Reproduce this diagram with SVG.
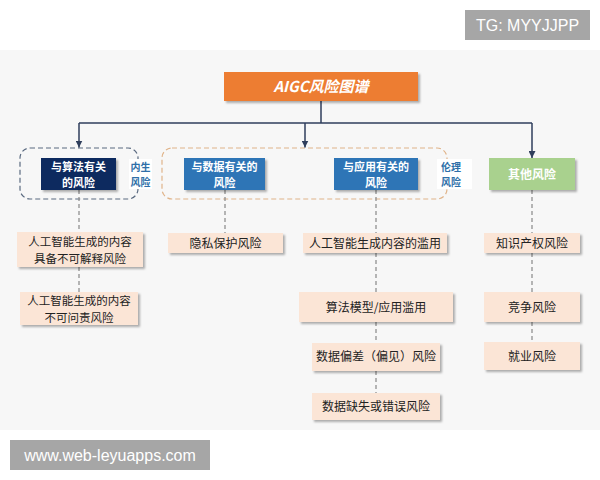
<svg xmlns="http://www.w3.org/2000/svg" width="600" height="480" viewBox="0 0 600 480">
<defs>
<filter id="sh" x="-10%" y="-20%" width="130%" height="170%">
<feDropShadow dx="2" dy="2" stdDeviation="1.2" flood-color="#000" flood-opacity="0.3"/>
</filter>
<marker id="ar" viewBox="0 0 10 10" refX="10" refY="5" markerWidth="7" markerHeight="7" orient="auto" markerUnits="userSpaceOnUse">
<path d="M0,0 L10,5 L0,10 z" fill="#2f3e5c"/>
</marker>
</defs>
<style>
text{font-family:"Noto Sans CJK SC","Liberation Sans",sans-serif;text-anchor:middle}
.hd{font-size:11px;font-weight:bold;fill:#fff}
.ch{font-size:12px;fill:#222}
.ch2{font-size:11.5px;fill:#222}
.leaf{fill:#fbe5d6;filter:url(#sh)}
.hbox{filter:url(#sh)}
.dash{stroke:#888;stroke-width:1.2;stroke-dasharray:4 3;fill:none}
.conn{stroke:#2f3e5c;stroke-width:1.5;fill:none}
.tag{font-size:10px;font-weight:bold;fill:#2e6fa8}
.wm{fill:#a6a6a6}
.wmt{font-family:"Liberation Sans",Arial,sans-serif;fill:#fff;font-size:16px}
</style>
<rect x="0" y="0" width="600" height="480" fill="#fff"/>
<rect x="0" y="50" width="600" height="380" fill="#f7f7f7"/>

<g id="tg-label">
<rect class="wm" x="465" y="10" width="125" height="30"/>
<text class="wmt" x="527.5" y="31">TG: MYYJJPP</text>
</g>

<g id="containers">
<rect x="20" y="148" width="118" height="51" rx="10" fill="none" stroke="#5a6a80" stroke-width="1.2" stroke-dasharray="5 3"/>
<rect x="162" y="148" width="285" height="51" rx="10" fill="none" stroke="#e0b48a" stroke-width="1.2" stroke-dasharray="5 3"/>
</g>

<g id="connectors">
<path class="conn" d="M321,101 V123"/>
<path class="conn" d="M79,123 H532"/>
<path class="conn" d="M79,123 V147.5" marker-end="url(#ar)"/>
<path class="conn" d="M305,123 V147.5" marker-end="url(#ar)"/>
<path class="conn" d="M532,123 V158" marker-end="url(#ar)"/>
<path class="dash" d="M79,190 V232 M79,267 V292"/>
<path class="dash" d="M225,190 V233"/>
<path class="dash" d="M376,190 V233 M376,253 V292 M376,322 V343 M376,371 V393"/>
<path class="dash" d="M532,190 V233 M532,253 V292 M532,322 V342"/>
</g>

<g id="title">
<rect x="224" y="72" width="194" height="29" fill="#ed7d31" filter="url(#sh)"/>
<text x="321" y="92" font-size="15" font-weight="bold" font-style="italic" fill="#fff">AIGC风险图谱</text>
</g>

<g id="tag-inner">
<rect x="129" y="159" width="23" height="30" fill="#fff"/>
<text class="tag" x="140.5" y="171">内生<tspan x="140.5" dy="14.6">风险</tspan></text>
</g>
<g id="tag-ethics">
<rect x="437" y="159" width="35" height="30" fill="#fff"/>
<text class="tag" x="451" y="171">伦理<tspan x="451" dy="14.6">风险</tspan></text>
</g>

<g id="algo">
<rect class="hbox" x="41" y="158" width="75" height="32" fill="#0e2a5e"/>
<text class="hd" x="78.5" y="170.5">与算法有关<tspan x="78.5" dy="16">的风险</tspan></text>
</g>
<g id="data">
<rect class="hbox" x="184" y="158" width="81" height="32" fill="#2e75b6"/>
<text class="hd" x="224.5" y="170.5">与数据有关的<tspan x="224.5" dy="16">风险</tspan></text>
</g>
<g id="app">
<rect class="hbox" x="334" y="158" width="84" height="32" fill="#2e75b6"/>
<text class="hd" x="376" y="170.5">与应用有关的<tspan x="376" dy="16">风险</tspan></text>
</g>
<g id="other">
<rect class="hbox" x="489" y="158" width="86" height="32" fill="#a9d18e"/>
<text x="532" y="178.5" font-size="12" font-weight="bold" fill="#fff">其他风险</text>
</g>

<g id="c1">
<rect class="leaf" x="17" y="232" width="126" height="35"/>
<text class="ch2" x="80" y="245.5">人工智能生成的内容<tspan x="80" dy="17">具备不可解释风险</tspan></text>
</g>
<g id="c2">
<rect class="leaf" x="20" y="292" width="118" height="33"/>
<text class="ch2" x="79" y="304.5">人工智能生成的内容<tspan x="79" dy="17">不可问责风险</tspan></text>
</g>
<g id="c3">
<rect class="leaf" x="168" y="233" width="115" height="20"/>
<text class="ch" x="225.5" y="247.5">隐私保护风险</text>
</g>
<g id="c4">
<rect class="leaf" x="303" y="233" width="144" height="20"/>
<text class="ch" x="375" y="247.5">人工智能生成内容的滥用</text>
</g>
<g id="c5">
<rect class="leaf" x="299" y="292" width="154" height="30"/>
<text class="ch" x="376" y="311.5">算法模型/应用滥用</text>
</g>
<g id="c6">
<rect class="leaf" x="312" y="343" width="128" height="28"/>
<text class="ch" x="376" y="361">数据偏差（偏见）风险</text>
</g>
<g id="c7">
<rect class="leaf" x="312" y="393" width="128" height="27"/>
<text class="ch" x="376" y="411">数据缺失或错误风险</text>
</g>
<g id="c8">
<rect class="leaf" x="484" y="233" width="96" height="20"/>
<text class="ch" x="532" y="247.5">知识产权风险</text>
</g>
<g id="c9">
<rect class="leaf" x="484" y="292" width="96" height="30"/>
<text class="ch" x="532" y="311.5">竞争风险</text>
</g>
<g id="c10">
<rect class="leaf" x="484" y="342" width="96" height="28"/>
<text class="ch" x="532" y="360.5">就业风险</text>
</g>

<g id="url-label">
<rect class="wm" x="10" y="440" width="200" height="30"/>
<text class="wmt" x="110" y="461" font-size="17">www.web-leyuapps.com</text>
</g>
</svg>
